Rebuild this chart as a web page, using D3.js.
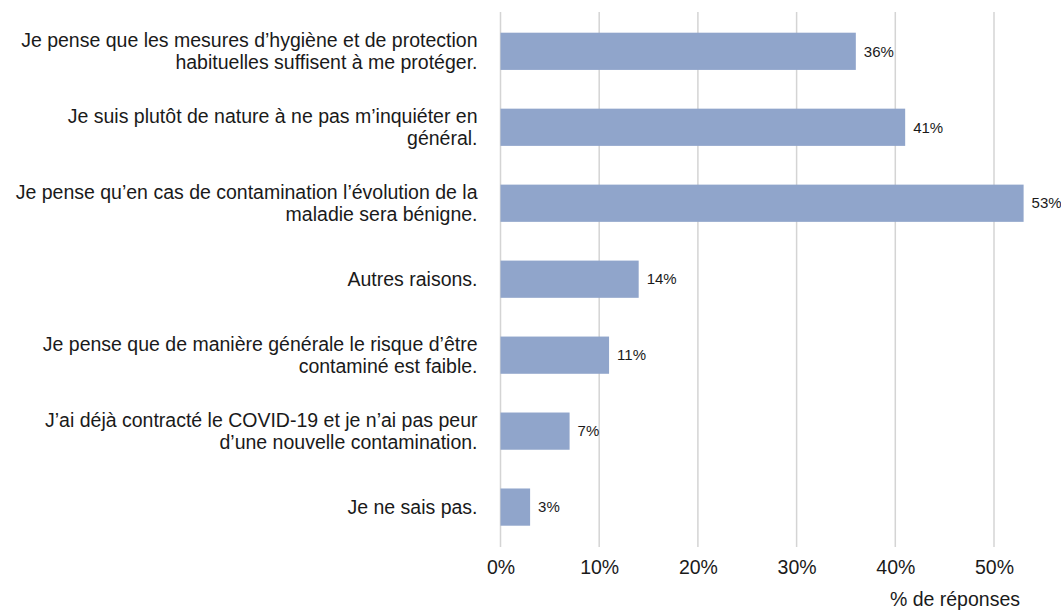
<!DOCTYPE html>
<html>
<head>
<meta charset="utf-8">
<script src="https://cdn.jsdelivr.net/npm/d3@7"></script>
<style>
  html, body { margin: 0; padding: 0; background: #fff; }
  svg { display: block; font-family: "Liberation Sans", Arial, sans-serif; }
</style>
</head>
<body>
<svg id="chart" width="1061" height="610"></svg>
<script>
// Survey answers: reasons for not worrying, share of responses (%)
const categories = [
  ["Je pense que les mesures d\u2019hygi\u00e8ne et de protection", "habituelles suffisent \u00e0 me prot\u00e9ger."],
  ["Je suis plut\u00f4t de nature \u00e0 ne pas m\u2019inqui\u00e9ter en", "g\u00e9n\u00e9ral."],
  ["Je pense qu\u2019en cas de contamination l\u2019\u00e9volution de la", "maladie sera b\u00e9nigne."],
  ["Autres raisons."],
  ["Je pense que de mani\u00e8re g\u00e9n\u00e9rale le risque d\u2019\u00eatre", "contamin\u00e9 est faible."],
  ["J\u2019ai d\u00e9j\u00e0 contract\u00e9 le COVID-19 et je n\u2019ai pas peur", "d\u2019une nouvelle contamination."],
  ["Je ne sais pas."]
];
const values = [36, 41, 53, 14, 11, 7, 3];
const xTicks = [0, 10, 20, 30, 40, 50];
const axisTitle = "% de r\u00e9ponses";

const svg = d3.select("#chart");
const left = 500.5, right = 994;
const gridTop = 12, gridBottom = 547;
const labelSize = 19.5;

const x = d3.scaleLinear().domain([0, 50]).range([left, right]);
const y = d3.scaleBand()
  .domain(d3.range(categories.length))
  .range([13.7, 544.7])
  .paddingInner(0.51)
  .paddingOuter(0.25);

// vertical gridlines
svg.append("g")
  .selectAll("line")
  .data(xTicks)
  .join("line")
  .attr("x1", d => x(d)).attr("x2", d => x(d))
  .attr("y1", gridTop).attr("y2", gridBottom)
  .attr("stroke", "#d4d4d4")
  .attr("stroke-width", 1.5);

// x axis tick labels
const xAxis = d3.axisBottom(x).tickValues(xTicks).tickFormat(d => d + "%").tickSize(0).tickPadding(0);
const gx = svg.append("g").attr("transform", `translate(0, ${gridBottom + 13})`).call(xAxis);
gx.select(".domain").remove();
gx.selectAll("text")
  .attr("font-size", labelSize)
  .attr("fill", "#1a1a1a")
  .attr("font-family", "Liberation Sans, Arial, sans-serif");

// bars
svg.append("g")
  .selectAll("rect")
  .data(values)
  .join("rect")
  .attr("x", x(0))
  .attr("y", (d, i) => y(i))
  .attr("width", d => x(d) - x(0))
  .attr("height", y.bandwidth())
  .attr("fill", "#90a5cb");

// value labels
svg.append("g")
  .selectAll("text")
  .data(values)
  .join("text")
  .attr("x", d => x(d) + 8)
  .attr("y", (d, i) => y(i) + y.bandwidth() / 2)
  .attr("dy", "0.35em")
  .attr("font-size", 15)
  .attr("fill", "#1a1a1a")
  .text(d => d + "%");

// category labels (right aligned, wrapped lines centred on the bar)
const lineH = 22.5;
const lab = svg.append("g")
  .selectAll("text")
  .data(categories)
  .join("text")
  .attr("x", left - 23)
  .attr("text-anchor", "end")
  .attr("font-size", labelSize)
  .attr("fill", "#1a1a1a")
  .attr("y", (d, i) => y(i) + y.bandwidth() / 2 - (d.length - 1) * lineH / 2);
lab.selectAll("tspan")
  .data(d => d)
  .join("tspan")
  .attr("x", left - 23)
  .attr("dy", (d, j) => j === 0 ? "0.35em" : lineH)
  .text(d => d);

// axis title
svg.append("text")
  .attr("x", 1020)
  .attr("y", 606)
  .attr("text-anchor", "end")
  .attr("font-size", labelSize)
  .attr("fill", "#1a1a1a")
  .text(axisTitle);
</script>
</body>
</html>
